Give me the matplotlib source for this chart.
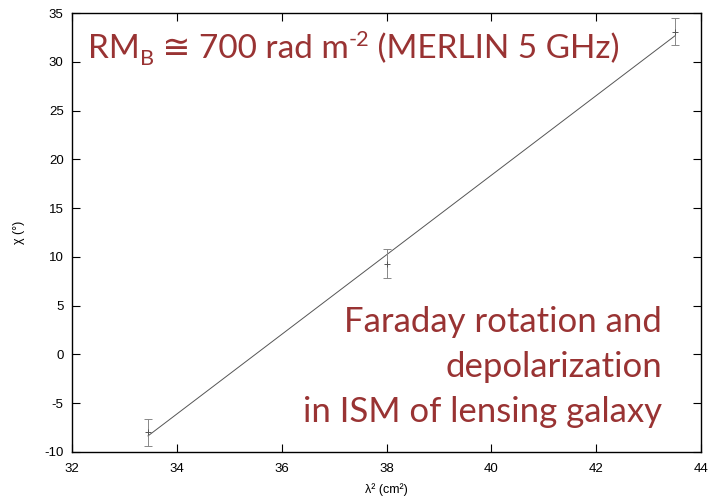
import numpy as np
import matplotlib.pyplot as plt

plt.rcParams['axes.unicode_minus'] = False

# measured polarization angle vs wavelength squared
lam2 = [33.45, 38.0, 43.5]        # cm^2
chi = [-8.0, 9.3, 33.1]           # degrees
chi_err = [1.4, 1.5, 1.4]

# fitted rotation-measure line
fit_x = [33.45, 43.5]
fit_y = [-8.35, 32.65]

red = '#993333'
fam = ['Lato', 'DejaVu Sans']

fig = plt.figure(figsize=(7.15, 4.99), dpi=100)
ax = fig.add_axes([72/715, 47/499, 629/715, 439/499])

ax.plot(fit_x, fit_y, color='#555555', lw=0.7)
ax.errorbar(lam2, chi, yerr=chi_err, fmt='+', color='#555555', ms=5, mew=0.7,
            elinewidth=0.7, ecolor='#888888', capsize=3, capthick=0.7)

ax.set_xlim(32, 44)
ax.set_ylim(-10, 35)
ax.set_xticks(np.arange(32, 45, 2))
ax.set_yticks(np.arange(-10, 36, 5))
ax.tick_params(direction='in', top=True, right=True, length=6, width=0.8,
               labelsize=9.5)
ax.tick_params(axis='x', pad=8)
ax.tick_params(axis='y', pad=6)
for lab in ax.get_xticklabels() + ax.get_yticklabels():
    lab.set_family('Liberation Sans')
for s in ax.spines.values():
    s.set_linewidth(1.0)

ax.set_xlabel('λ² (cm²)', fontsize=9, labelpad=6, family='Liberation Sans')
ax.set_ylabel('χ (°)', fontsize=9, labelpad=14, family='Liberation Sans')

# title line built piece by piece so sub/superscripts sit like slide text
renderer = fig.canvas.get_renderer()
pieces = [('RM', 1.0, 0), ('B', 0.65, -7), (' ≅ 700 rad m', 1.0, 0),
          ('-2', 0.65, 12), (' (MERLIN 5 GHz)', 1.0, 0)]
x = 88
for txt, scale, dy in pieces:
    t = fig.text(x/715, 1 - (58 - dy)/499, txt, fontsize=24*scale, color=red,
                 family=fam, ha='left', va='baseline')
    x = t.get_window_extent(renderer).x1

lines = ['Faraday rotation and', 'depolarization', 'in ISM of lensing galaxy']
for i, t in enumerate(lines):
    fig.text(662/715, 1 - (332 + 45*i)/499, t, fontsize=25, color=red,
             family=fam, ha='right', va='baseline')

fig.savefig('out.png', dpi=100)
